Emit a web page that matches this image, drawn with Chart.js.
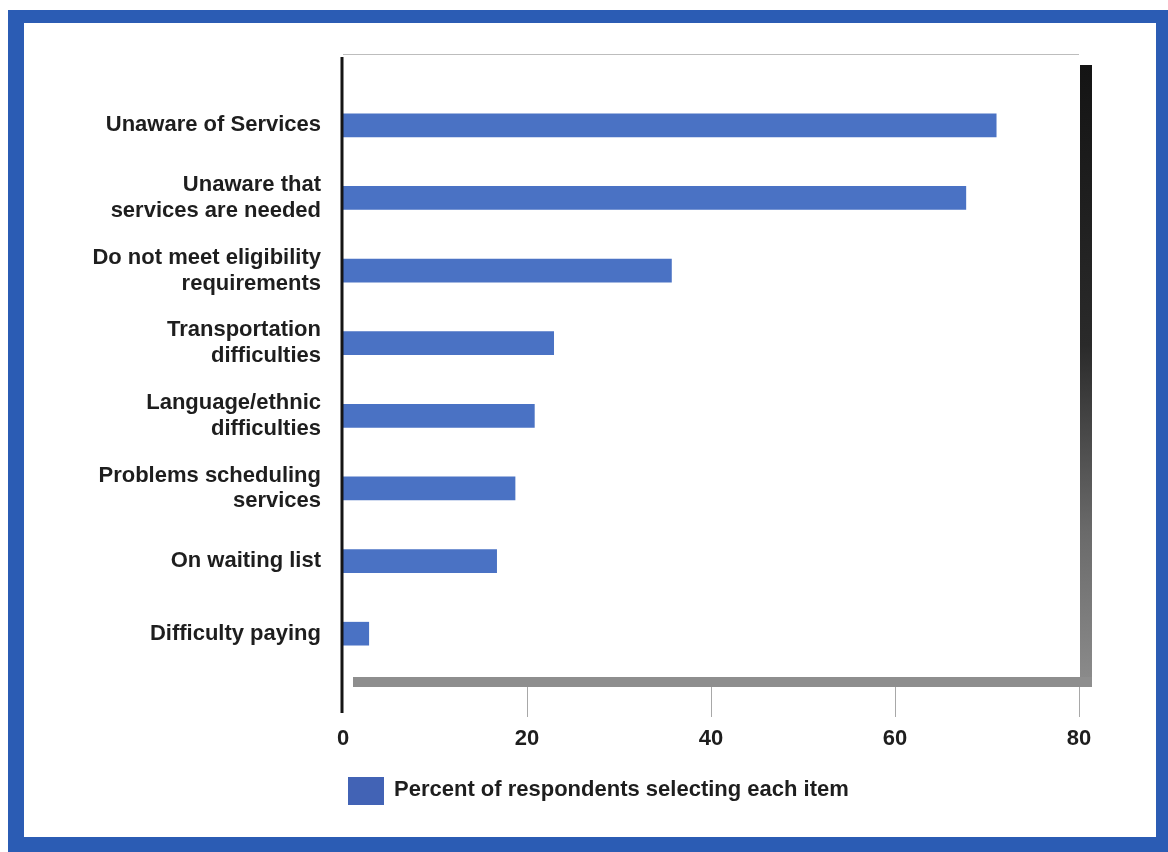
<!DOCTYPE html>
<html lang="en">

<head>
    <meta charset="UTF-8">
    <title>Barriers to Services</title>

    <style>
        html,
        body {
            margin: 0;
            padding: 0;
            background-color: white;
            overflow: hidden;
        }

        .chart-wrap {
            position: relative;
            width: 1168px;
            height: 852px;
        }
    </style>

    <script src="https://cdn.jsdelivr.net/npm/chart.js"></script>
</head>

<body>

    <div class="chart-wrap">
        <canvas id="barChart" width="1168" height="852"></canvas>
    </div>

<script>
    const categories = [
        'Unaware of Services',
        ['Unaware that', 'services are needed'],
        ['Do not meet eligibility', 'requirements'],
        ['Transportation', 'difficulties'],
        ['Language/ethnic', 'difficulties'],
        ['Problems scheduling', 'services'],
        'On waiting list',
        'Difficulty paying'
    ];
    const percentSelecting = [71, 67.7, 35.7, 22.9, 20.8, 18.7, 16.7, 2.8];
    const xTicks = [0, 20, 40, 60, 80];
    const seriesLabel = 'Percent of respondents selecting each item';

    const BAR_BLUE = '#4a72c4';
    const FRAME_BLUE = '#2b5cb4';
    const FONT = '"Liberation Sans", Arial, sans-serif';

    // blue page frame, box edges with drop shadows, tick marks and legend
    const decorations = {
        id: 'decorations',
        beforeDraw(chart) {
            const ctx = chart.ctx;
            ctx.save();
            ctx.fillStyle = 'white';
            ctx.fillRect(0, 0, chart.width, chart.height);
            ctx.fillStyle = FRAME_BLUE;
            ctx.fillRect(8, 10, chart.width - 8, chart.height - 10);
            ctx.fillStyle = 'white';
            ctx.fillRect(24, 23, chart.width - 24 - 12, chart.height - 23 - 15);
            ctx.restore();
        },
        afterDraw(chart) {
            const ctx = chart.ctx;
            const x = chart.scales.x;
            const left = x.getPixelForValue(0);
            const right = x.getPixelForValue(80);
            const bottom = chart.chartArea.bottom;
            ctx.save();

            // thin top edge
            ctx.strokeStyle = '#bdbdbd';
            ctx.lineWidth = 1;
            ctx.beginPath();
            ctx.moveTo(left, 54.5);
            ctx.lineTo(right, 54.5);
            ctx.stroke();

            // right shadow, dark at the top fading to grey
            const g = ctx.createLinearGradient(0, 65, 0, bottom + 17);
            g.addColorStop(0, '#141414');
            g.addColorStop(0.45, '#2a2a2a');
            g.addColorStop(0.75, '#6a6a6a');
            g.addColorStop(1, '#8c8c8c');
            ctx.fillStyle = g;
            ctx.fillRect(right + 1, 65, 12, bottom + 17 - 65);

            // bottom shadow
            ctx.fillStyle = '#8e8e8e';
            ctx.fillRect(left + 10, bottom + 7, right - left + 3, 10);

            // tick marks below the box
            ctx.strokeStyle = '#a8a8a8';
            ctx.lineWidth = 1;
            xTicks.slice(1).forEach(v => {
                const px = Math.round(x.getPixelForValue(v)) + 0.5;
                ctx.beginPath();
                ctx.moveTo(px, bottom + 17);
                ctx.lineTo(px, bottom + 47);
                ctx.stroke();
            });

            // vertical axis line
            ctx.strokeStyle = '#151515';
            ctx.lineWidth = 3;
            ctx.beginPath();
            ctx.moveTo(left - 1, 57);
            ctx.lineTo(left - 1, bottom + 43);
            ctx.stroke();

            // legend
            const ds = chart.data.datasets[0];
            ctx.fillStyle = '#4263b5';
            ctx.fillRect(348, 777, 36, 28);
            ctx.fillStyle = '#1e1e1e';
            ctx.font = 'bold 22px ' + FONT;
            ctx.textBaseline = 'middle';
            ctx.textAlign = 'left';
            ctx.fillText(ds.label, 394, 790);
            ctx.restore();
        }
    };

    const barCtx = document.getElementById('barChart').getContext('2d');
    new Chart(barCtx, {
        type: 'bar',
        data: {
            labels: categories,
            datasets: [{
                label: seriesLabel,
                data: percentSelecting,
                backgroundColor: BAR_BLUE,
                barThickness: 23
            }]
        },
        options: {
            indexAxis: 'y',
            responsive: false,
            animation: false,
            layout: {
                padding: { left: 0, right: 89, top: 89, bottom: 0 }
            },
            scales: {
                x: {
                    min: 0,
                    max: 80,
                    afterBuildTicks: axis => {
                        axis.ticks = xTicks.map(v => ({ value: v }));
                    },
                    afterFit: axis => {
                        axis.height = 182;
                    },
                    grid: { display: false, drawTicks: false },
                    border: { display: false },
                    ticks: {
                        padding: 56,
                        color: '#1e1e1e',
                        font: { family: FONT, size: 22, weight: 'bold' }
                    }
                },
                y: {
                    afterFit: axis => {
                        axis.width = 343;
                    },
                    grid: { display: false, drawTicks: false },
                    border: { display: false },
                    ticks: {
                        padding: 22,
                        color: '#1e1e1e',
                        font: { family: FONT, size: 22, weight: 'bold', lineHeight: 1.18 }
                    }
                }
            },
            plugins: {
                legend: { display: false },
                tooltip: { enabled: false }
            }
        },
        plugins: [decorations]
    });
</script>

</body>

</html>
